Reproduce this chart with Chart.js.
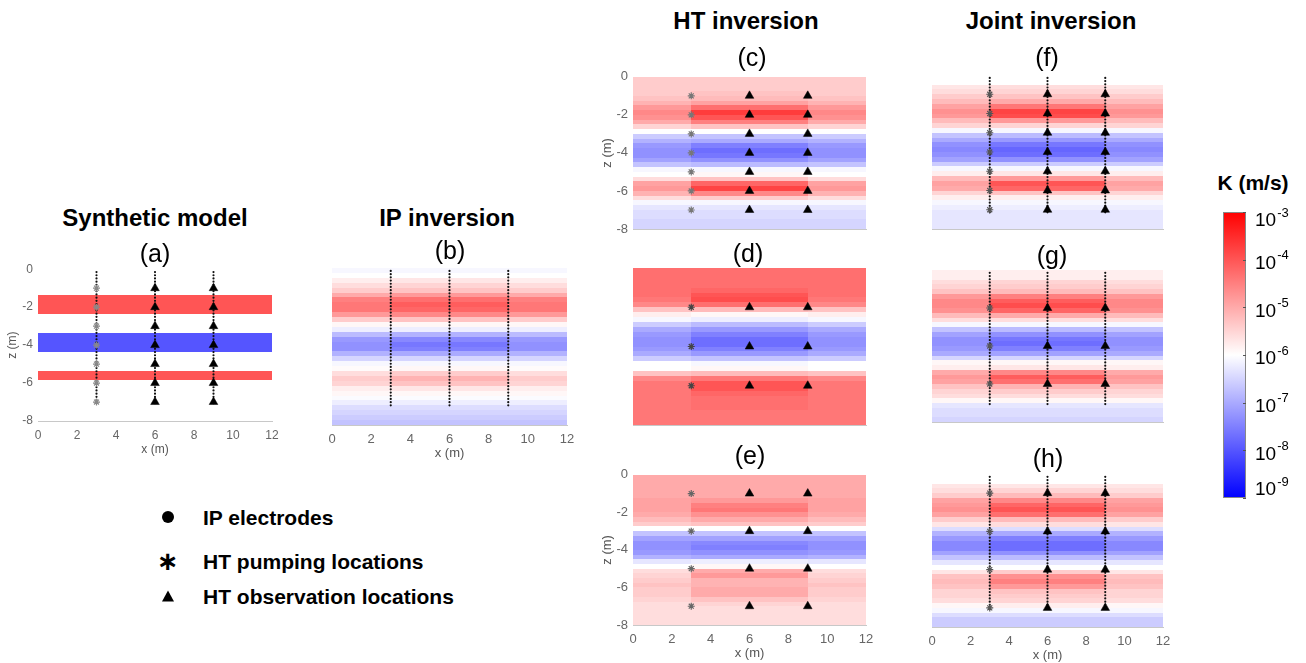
<!DOCTYPE html>
<html>
<head>
<meta charset="utf-8">
<script src="https://cdn.jsdelivr.net/npm/chart.js@4.4.1/dist/chart.umd.min.js"></script>
<style>
body{margin:0;background:#fff;width:1306px;height:663px;position:relative;overflow:hidden;font-family:"Liberation Sans",Arial,sans-serif;}
canvas{position:absolute;}
.lbl{position:absolute;transform:translate(-50%,-50%);white-space:nowrap;color:#000;line-height:1;z-index:2;}
.ttl{font-weight:bold;font-size:24px;}
.tag{font-size:25px;}
.kt{font-weight:bold;font-size:21px;}
.leg{position:absolute;transform:translateY(-50%);font-weight:bold;font-size:21px;white-space:nowrap;line-height:1;}
.sym{position:absolute;transform:translate(-50%,-50%);line-height:1;}
</style>
</head>
<body>
<script>
// ---- data ----
// depth rows (m), 0.25 m cells
const depthEdges = [0,-0.25,-0.5,-0.75,-1,-1.25,-1.5,-1.75,-2,-2.25,-2.5,-2.75,-3,-3.25,-3.5,-3.75,-4,
  -4.25,-4.5,-4.75,-5,-5.25,-5.5,-5.75,-6,-6.25,-6.5,-6.75,-7,-7.25,-7.5,-7.75,-8];
// x zones: outer part of the section and the well field in between
const zoneX = [0, 3, 9, 12];
const zoneKind = ['edge', 'mid', 'edge'];

// synthetic model layers (log10 K), background 1e-6
const synthTop = [-1.35, -3.35, -5.35];
const synthBottom = [-2.35, -4.35, -5.85];
const synthLogK = [-4, -8, -4];

// (b) IP inversion
const logK_b_mid  = [-6.1,-6.0,-5.7,-5.5,-5.3,-4.8,-4.3,-4.1,-4.2,-4.6,-5.3,-5.9,-6.2,-6.9,-7.4,-7.6,-7.5,-7.0,-6.5,-6.1,-5.9,-5.4,-5.1,-5.3,-5.7,-5.9,-6.05,-6.2,-6.4,-6.5,-6.6,-6.7];
const logK_b_edge = [-6.1,-6.0,-5.8,-5.6,-5.4,-5.0,-4.5,-4.4,-4.4,-4.8,-5.4,-5.9,-6.2,-6.8,-7.2,-7.3,-7.3,-6.9,-6.5,-6.1,-5.95,-5.6,-5.4,-5.5,-5.8,-5.9,-6.05,-6.2,-6.4,-6.5,-6.6,-6.7];
// (c) HT inversion, 7 pumping tests
const logK_c_mid  = [-5.4,-5.4,-5.4,-5.3,-5.2,-4.9,-4.3,-3.7,-4.0,-4.5,-5.3,-6.0,-6.7,-7.0,-7.5,-7.7,-7.6,-7.3,-6.8,-6.1,-5.9,-5.3,-4.2,-3.8,-4.6,-5.4,-6.1,-6.3,-6.4,-6.4,-6.5,-6.5];
const logK_c_edge = [-5.4,-5.4,-5.4,-5.4,-5.3,-5.1,-4.8,-4.6,-4.7,-5.0,-5.5,-6.0,-6.6,-6.9,-7.2,-7.3,-7.3,-7.1,-6.7,-6.1,-6.0,-5.6,-4.9,-4.8,-5.1,-5.6,-6.1,-6.3,-6.4,-6.4,-6.5,-6.5];
// (d) HT inversion, 3 pumping tests
const logK_d_mid  = [-4.3,-4.3,-4.3,-4.3,-4.2,-4.0,-3.9,-4.3,-5.2,-5.9,-6.2,-6.8,-7.2,-7.5,-7.7,-7.7,-7.5,-7.2,-6.7,-6.1,-5.9,-5.2,-4.4,-4.0,-4.0,-4.2,-4.3,-4.3,-4.3,-4.4,-4.4,-4.4];
const logK_d_edge = [-4.3,-4.3,-4.3,-4.3,-4.3,-4.3,-4.4,-4.6,-5.3,-5.8,-6.1,-6.6,-7.0,-7.2,-7.3,-7.3,-7.2,-7.0,-6.6,-6.0,-6.0,-5.3,-4.6,-4.4,-4.4,-4.4,-4.4,-4.4,-4.4,-4.4,-4.4,-4.4];
// (e) HT inversion, 4 pumping tests
const logK_e_mid  = [-5.0,-5.0,-5.0,-5.0,-5.0,-4.8,-4.5,-4.4,-4.7,-5.0,-5.3,-6.0,-6.7,-7.1,-7.4,-7.5,-7.3,-7.0,-6.2,-5.9,-5.0,-4.8,-5.1,-5.1,-5.0,-5.0,-5.3,-5.5,-5.6,-5.6,-5.6,-5.6];
const logK_e_edge = [-5.0,-5.0,-5.0,-5.0,-5.0,-4.9,-4.9,-4.9,-5.0,-5.2,-5.4,-6.0,-6.7,-7.1,-7.3,-7.3,-7.2,-6.9,-6.3,-6.0,-5.6,-5.5,-5.4,-5.3,-5.4,-5.4,-5.5,-5.6,-5.6,-5.6,-5.6,-5.6];
// (f) joint inversion, 7 pumping tests
const logK_f_mid  = [-6.0,-6.0,-5.6,-5.5,-5.3,-5.0,-4.4,-3.8,-3.9,-4.8,-5.5,-6.1,-6.8,-7.2,-7.6,-7.8,-7.7,-7.3,-6.6,-6.1,-5.7,-4.8,-4.0,-4.2,-5.3,-5.8,-6.1,-6.2,-6.3,-6.3,-6.3,-6.3];
const logK_f_edge = [-6.0,-6.0,-5.7,-5.6,-5.4,-5.2,-4.9,-4.7,-4.8,-5.2,-5.5,-6.1,-6.7,-7.0,-7.3,-7.4,-7.3,-7.1,-6.6,-6.1,-5.8,-5.2,-4.9,-5.0,-5.5,-5.8,-6.1,-6.2,-6.3,-6.3,-6.3,-6.3];
// (g) joint inversion, 3 pumping tests
const logK_g_mid  = [-5.8,-5.8,-5.5,-5.4,-5.2,-4.5,-4.1,-3.9,-4.2,-5.0,-5.6,-6.1,-6.8,-7.3,-7.6,-7.7,-7.5,-7.1,-6.5,-5.9,-5.7,-4.6,-4.1,-4.3,-5.1,-5.4,-5.6,-5.9,-6.3,-6.4,-6.4,-6.5];
const logK_g_edge = [-5.8,-5.8,-5.6,-5.5,-5.3,-4.8,-4.6,-4.6,-4.7,-5.2,-5.6,-6.1,-6.7,-7.1,-7.3,-7.3,-7.2,-7.0,-6.5,-5.9,-5.8,-5.0,-4.8,-4.9,-5.3,-5.5,-5.6,-5.9,-6.3,-6.4,-6.4,-6.5];
// (h) joint inversion, 4 pumping tests
const logK_h_mid  = [-6.0,-6.0,-5.7,-5.5,-5.2,-4.6,-4.2,-4.0,-4.3,-5.2,-5.6,-6.4,-7.0,-7.5,-7.7,-7.7,-7.3,-6.8,-6.3,-6.0,-5.4,-4.7,-4.5,-4.8,-5.3,-5.4,-5.5,-5.8,-6.1,-6.4,-6.6,-6.6];
const logK_h_edge = [-6.0,-6.0,-5.7,-5.6,-5.4,-4.9,-4.8,-4.7,-4.9,-5.4,-5.7,-6.4,-6.9,-7.2,-7.4,-7.4,-7.1,-6.7,-6.3,-6.0,-5.7,-5.3,-5.2,-5.3,-5.5,-5.5,-5.6,-5.9,-6.1,-6.4,-6.6,-6.6];

// wells
const electrodeX = [3, 6, 9];
const electrodeTop = -0.15, electrodeBottom = -7.15;
const pumpX = 3;
const obsX = [6, 9];
const depthsAll = [-1, -2, -3, -4, -5, -6, -7];
const depthsEven = [-2, -4, -6];
const depthsOdd = [-1, -3, -5, -7];

// colorbar
const cbExp = [-3, -4, -5, -6, -7, -8, -9];
const xTicksVals = [0, 2, 4, 6, 8, 10, 12];

// ---- helpers ----
const FONT = '"Liberation Sans", Arial, sans-serif';

function kColor(logK) {
    let t = (logK + 9) / 6;
    t = Math.max(0, Math.min(1, t));
    if (t < 0.5) {
        let v = Math.round(255 * t / 0.5);
        return 'rgb(' + v + ',' + v + ',255)';
    }
    let v = Math.round(255 * (1 - t) / 0.5);
    return 'rgb(255,' + v + ',' + v + ')';
}

function fieldPlugin(field) {
    return {
        id: 'kfield',
        beforeDraw(chart) {
            if (!field) return;
            const ctx = chart.ctx;
            const x = chart.scales.x, y = chart.scales.y;
            ctx.save();
            if (field.kind === 'bands') {
                for (let i = 0; i < field.top.length; i++) {
                    const x0 = Math.round(x.getPixelForValue(0)), x1 = Math.round(x.getPixelForValue(12));
                    const y0 = Math.round(y.getPixelForValue(field.top[i]));
                    const y1 = Math.round(y.getPixelForValue(field.bottom[i]));
                    ctx.fillStyle = kColor(field.logK[i]);
                    ctx.fillRect(x0, y0, x1 - x0, y1 - y0);
                }
            } else {
                for (let i = 0; i < depthEdges.length - 1; i++) {
                    const y0 = Math.round(y.getPixelForValue(depthEdges[i]));
                    const y1 = Math.round(y.getPixelForValue(depthEdges[i + 1]));
                    for (let j = 0; j < zoneX.length - 1; j++) {
                        const prof = zoneKind[j] === 'mid' ? field.mid : field.edge;
                        const x0 = Math.round(x.getPixelForValue(zoneX[j]));
                        const x1 = Math.round(x.getPixelForValue(zoneX[j + 1]));
                        ctx.fillStyle = kColor(prof[i]);
                        ctx.fillRect(x0, y0, x1 - x0, y1 - y0);
                    }
                }
            }
            ctx.restore();
        }
    };
}

function wellSets(depths, withLines, starColor) {
    let sets = [];
    if (depths) {
        sets.push({
            data: depths.map(z => ({x: pumpX, y: z})),
            pointStyle: 'star', pointRadius: 3.5, borderColor: starColor, borderWidth: 1.2,
            showLine: false, order: 1
        });
        obsX.forEach(ox => {
            sets.push({
                data: depths.map(z => ({x: ox, y: z})),
                pointStyle: 'triangle', pointRadius: 5, backgroundColor: '#000', borderColor: '#000',
                borderWidth: 0.5, showLine: false, order: 1
            });
        });
    }
    if (withLines) {
        electrodeX.forEach(ex => {
            sets.push({
                data: [{x: ex, y: electrodeTop}, {x: ex, y: electrodeBottom}],
                showLine: true, borderColor: '#111', borderWidth: 2.2, borderDash: [0, 3.2],
                borderCapStyle: 'round', pointRadius: 0, order: 2
            });
        });
    }
    return sets;
}

// plot areas in page pixels
const boxes = {
    a: {l: 38, r: 272, t: 267, b: 421},
    b: {l: 332, r: 567, t: 268, b: 425},
    c: {l: 633, r: 866, t: 74, b: 229},
    d: {l: 633, r: 866, t: 268, b: 425},
    e: {l: 633, r: 866, t: 472, b: 625},
    f: {l: 932, r: 1163, t: 75, b: 229},
    g: {l: 932, r: 1163, t: 270, b: 422},
    h: {l: 932, r: 1163, t: 474, b: 627}
};

function makePanel(box, cfg) {
    const padL = 45, padT = 10, padR = 15, axH = 42;
    const w = box.r - box.l + padL + padR;
    const h = box.b - box.t + padT + axH;
    const cv = document.createElement('canvas');
    cv.width = w; cv.height = h;
    cv.style.width = w + 'px'; cv.style.height = h + 'px';
    cv.style.left = (box.l - padL) + 'px';
    cv.style.top = (box.t - padT) + 'px';
    document.body.appendChild(cv);
    const fs = cfg.fontSize || 13;
    new Chart(cv, {
        type: 'scatter',
        data: {datasets: cfg.datasets},
        options: {
            responsive: false,
            animation: false,
            devicePixelRatio: 1,
            layout: {padding: {left: 0, top: padT, right: padR, bottom: 0}},
            plugins: {legend: {display: false}, tooltip: {enabled: false}},
            scales: {
                x: {
                    type: 'linear', min: 0, max: 12,
                    afterFit: s => { s.height = axH; },
                    afterBuildTicks: s => { s.ticks = xTicksVals.map(v => ({value: v})); },
                    grid: {display: false, drawTicks: false},
                    border: {display: true, color: '#c8c8c8'},
                    ticks: {display: cfg.xTicks, padding: 7, color: '#666', font: {size: fs, family: FONT}},
                    title: {display: cfg.xTicks, text: 'x (m)', color: '#555', padding: {top: 0, bottom: 6}, font: {size: fs, family: FONT}}
                },
                y: {
                    type: 'linear', min: -8, max: 0,
                    afterFit: s => { s.width = padL; },
                    grid: {display: false, drawTicks: false},
                    border: {display: false},
                    ticks: {display: cfg.yTicks, stepSize: 2, padding: 5, color: '#666', font: {size: fs, family: FONT}},
                    title: {display: cfg.yTicks, text: 'z (m)', color: '#555', padding: {top: 12, bottom: 0}, font: {size: fs, family: FONT}}
                }
            }
        },
        plugins: [fieldPlugin(cfg.field)]
    });
}

makePanel(boxes.a, {
    field: {kind: 'bands', top: synthTop, bottom: synthBottom, logK: synthLogK},
    datasets: wellSets(depthsAll, true, '#888'), xTicks: true, yTicks: true, fontSize: 12
});
makePanel(boxes.b, {
    field: {kind: 'rows', mid: logK_b_mid, edge: logK_b_edge},
    datasets: wellSets(null, true), xTicks: true, yTicks: false
});
makePanel(boxes.c, {
    field: {kind: 'rows', mid: logK_c_mid, edge: logK_c_edge},
    datasets: wellSets(depthsAll, false, '#777'), xTicks: false, yTicks: true
});
makePanel(boxes.d, {
    field: {kind: 'rows', mid: logK_d_mid, edge: logK_d_edge},
    datasets: wellSets(depthsEven, false, '#444'), xTicks: false, yTicks: false
});
makePanel(boxes.e, {
    field: {kind: 'rows', mid: logK_e_mid, edge: logK_e_edge},
    datasets: wellSets(depthsOdd, false, '#666'), xTicks: true, yTicks: true
});
makePanel(boxes.f, {
    field: {kind: 'rows', mid: logK_f_mid, edge: logK_f_edge},
    datasets: wellSets(depthsAll, true, '#555'), xTicks: false, yTicks: false
});
makePanel(boxes.g, {
    field: {kind: 'rows', mid: logK_g_mid, edge: logK_g_edge},
    datasets: wellSets(depthsEven, true, '#555'), xTicks: false, yTicks: false
});
makePanel(boxes.h, {
    field: {kind: 'rows', mid: logK_h_mid, edge: logK_h_edge},
    datasets: wellSets(depthsOdd, true, '#555'), xTicks: true, yTicks: false
});

// colorbar (log scale K)
(function () {
    const cv = document.createElement('canvas');
    const w = 91, h = 320;
    cv.width = w; cv.height = h;
    cv.style.width = w + 'px'; cv.style.height = h + 'px';
    cv.style.left = '1215px'; cv.style.top = '195px';
    document.body.appendChild(cv);
    const barPlugin = {
        id: 'kbar',
        beforeDraw(chart) {
            const ctx = chart.ctx, a = chart.chartArea, y = chart.scales.y;
            const yTop = y.getPixelForValue(Math.pow(10, cbExp[0]));
            const yBot = y.getPixelForValue(Math.pow(10, cbExp[cbExp.length - 1]));
            const grad = ctx.createLinearGradient(0, yTop, 0, yBot);
            cbExp.forEach(e => {
                const py = y.getPixelForValue(Math.pow(10, e));
                grad.addColorStop((py - yTop) / (yBot - yTop), kColor(e));
            });
            ctx.save();
            ctx.fillStyle = grad;
            ctx.fillRect(a.left, yTop, a.right - a.left, yBot - yTop);
            ctx.strokeStyle = '#888';
            ctx.lineWidth = 1;
            ctx.strokeRect(a.left + 0.5, yTop + 0.5, a.right - a.left - 1, yBot - yTop - 1);
            ctx.fillStyle = '#000';
            ctx.textBaseline = 'middle';
            cbExp.forEach(e => {
                const py = y.getPixelForValue(Math.pow(10, e));
                ctx.strokeStyle = '#555';
                ctx.beginPath();
                ctx.moveTo(a.right - 3, Math.round(py) + 0.5);
                ctx.lineTo(a.right, Math.round(py) + 0.5);
                ctx.stroke();
                let ly = Math.max(yTop + 9, Math.min(yBot - 8, py + 4));
                ctx.font = '19px ' + FONT;
                ctx.fillText('10', a.right + 9, ly);
                const tw = ctx.measureText('10').width;
                ctx.font = '13px ' + FONT;
                ctx.fillText(String(e), a.right + 10 + tw, ly - 8);
            });
            ctx.restore();
        }
    };
    new Chart(cv, {
        type: 'scatter',
        data: {datasets: []},
        options: {
            responsive: false, animation: false, devicePixelRatio: 1,
            layout: {padding: {left: 8, top: 17, right: 60, bottom: 17}},
            plugins: {legend: {display: false}, tooltip: {enabled: false}},
            scales: {
                x: {display: false, min: 0, max: 1},
                y: {type: 'logarithmic', display: false, min: 1e-9, max: 1e-3}
            }
        },
        plugins: [barPlugin]
    });
})();

// titles
const labels = [
    ['Synthetic model', 155, 218, 'ttl'], ['(a)', 155, 253, 'tag'],
    ['IP inversion', 447, 218, 'ttl'], ['(b)', 450, 250, 'tag'],
    ['HT inversion', 746, 21, 'ttl'], ['(c)', 752, 57, 'tag'],
    ['(d)', 748, 253, 'tag'], ['(e)', 750, 455, 'tag'],
    ['Joint inversion', 1051, 21, 'ttl'], ['(f)', 1047, 57, 'tag'],
    ['(g)', 1052, 255, 'tag'], ['(h)', 1048, 458, 'tag'],
    ['K (m/s)', 1253, 182, 'kt']
];
labels.forEach(l => {
    const d = document.createElement('div');
    d.className = 'lbl ' + l[3];
    d.textContent = l[0];
    d.style.left = l[1] + 'px';
    d.style.top = l[2] + 'px';
    document.body.appendChild(d);
});

// legend
const legendItems = [
    ['dot', 'IP electrodes', 517],
    ['star', 'HT pumping locations', 561],
    ['tri', 'HT observation locations', 596]
];
legendItems.forEach(it => {
    const s = document.createElement('div');
    s.className = 'sym';
    s.style.left = '168px';
    s.style.top = it[2] + 'px';
    if (it[0] === 'dot') {
        s.style.width = '12px'; s.style.height = '12px'; s.style.borderRadius = '50%'; s.style.background = '#000';
    } else if (it[0] === 'tri') {
        s.style.width = '0'; s.style.height = '0';
        s.style.borderLeft = '6px solid transparent'; s.style.borderRight = '6px solid transparent';
        s.style.borderBottom = '11px solid #000';
    } else {
        s.style.fontSize = '26px'; s.style.fontWeight = 'bold'; s.style.fontFamily = '"DejaVu Sans", sans-serif';
        s.textContent = '\u2217';
    }
    document.body.appendChild(s);
    const t = document.createElement('div');
    t.className = 'leg';
    t.textContent = it[1];
    t.style.left = '203px';
    t.style.top = it[2] + 'px';
    document.body.appendChild(t);
});
</script>
</body>
</html>
